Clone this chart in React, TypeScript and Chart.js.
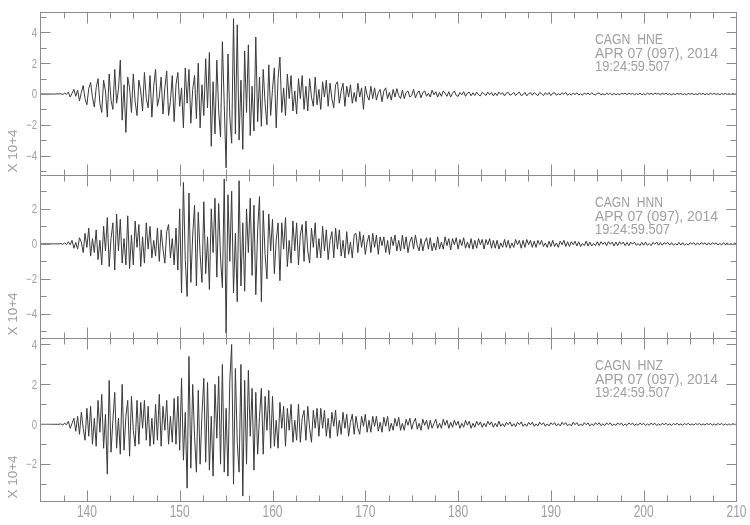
import { useEffect, useRef } from "react";
import { Chart, registerables } from "chart.js";

Chart.register(...registerables);

// ---- data (amplitudes in units of 10^4 counts, one sample every 0.2 s from 135 s) ----
const SAMPLE_START = 135;
const SAMPLE_STEP = 0.2;

const HNE = [
  0, 0, 0, 0, 0,
  0, 0, 0, 0, 0.01,
  0, 0.02, -0.03, 0.05, -0.02,
  0.12, -0.2, 0.05, 0.3, -0.15,
  0.25, -0.45, 0.1, 0.55, -0.3,
  -0.7, 0.35, 0.75, -0.2, -0.85,
  0.4, 1.0, -0.6, -1.2, 0.9,
  0.2, -1.5, 1.3, -0.4, -1.0,
  1.6, -0.6, 0.3, 2.2, -1.7,
  0.6, -2.5, 1.1, 0.4, -1.2,
  1.3, -0.5, -1.4, 0.9, 0.2,
  -1.1, 1.4, -0.3, -0.9, 1.2,
  -1.5, 0.5, 1.6, -0.8, -0.2,
  1.1, -1.3, 0.4, 1.5, -1.4,
  -0.5, 1.2, -1.8, 0.6, 1.4,
  -0.8, 0.4, -2.2, 1.7, -0.6,
  1.6, -1.9, 0.3, 1.2, -1.6,
  2.0, -2.2, 0.6, -1.4, 2.3,
  -0.9, 2.7, -3.4, 0.8, -2.6,
  2.2, -1.1, -2.8, 3.4, -0.7,
  -4.8, 2.6, -1.5, -3.2, 4.9,
  -2.6, 4.5, -3.0, 0.9, -3.6,
  2.8, -1.2, 3.2, -2.7, 0.5,
  -2.4, 3.7, -1.8, 1.1, -2.1,
  1.6, -0.6, -2.0, 1.9, -1.4,
  0.3, 1.7, -2.2, 1.0, 2.4,
  -1.2, 0.4, -1.4, 1.3, -0.3,
  1.2, -1.1, 0.2, -1.3, 1.0,
  -0.3, 1.2, -1.0, 0.5, -1.1,
  1.0, -0.2, -0.8, 1.1, -0.7,
  0.3, -1.0, 0.8, -0.2, 0.9,
  -0.8, 0.7, -0.3, -0.9, 0.6,
  0.8, -0.6, 0.2, 0.7, -0.8,
  0.5, -0.2, 0.6, -0.6, 0.1,
  -0.5, 0.7, -0.2, 0.4, -1.0,
  0.5, -0.1, -0.4, 0.5, -0.3,
  0.4, -0.4, 0.1, 0.3, -0.5,
  0.2, 0.4, -0.3, 0.1, -0.4,
  0.3, -0.2, 0.35, -0.1, -0.3,
  0.25, -0.3, 0.1, 0.2, -0.2,
  -0.1, 0.3, -0.25, 0.05, 0.2,
  -0.25, 0.1, 0.2, -0.15, 0.05,
  -0.2, 0.25, -0.05, 0.15, -0.2,
  0.1, -0.15, 0.2, 0.05, -0.15,
  0.15, -0.2, 0.05, 0.2, -0.1,
  -0.15, 0.1, -0.05, 0.15, -0.15,
  0.05, 0.12, -0.12, 0.08, -0.1,
  0.12, -0.05, -0.12, 0.1, 0.02,
  -0.1, 0.12, -0.04, 0.1, -0.12,
  0.06, -0.1, 0.12, -0.03, 0.08,
  -0.12, 0.06, 0.1, -0.08, -0.02,
  0.1, -0.1, 0.04, 0.12, -0.1,
  -0.04, 0.1, -0.12, 0.03, 0.08,
  -0.08, 0.1, -0.02, -0.1, 0.1,
  0.02, -0.1, 0.08, -0.04, 0.1,
  -0.1, 0.05, 0.08, -0.08, 0.02,
  -0.06, 0.08, -0.02, 0.1, -0.08,
  0.03, -0.08, 0.06, -0.04, 0.08,
  -0.06, 0.02, -0.08, 0.06, -0.02,
  0.06, -0.05, 0.08, -0.02, -0.06,
  0.04, 0.07, -0.06, 0.02, -0.07,
  0.06, -0.03, 0.05, -0.06, 0.04,
  -0.05, 0.02, -0.06, 0.06, -0.01,
  0.05, -0.05, 0.06, -0.02, 0.04,
  -0.05, 0.03, -0.04, 0.06, -0.05,
  0.02, -0.05, 0.05, -0.02, 0.05,
  -0.04, 0.05, -0.01, 0.04, -0.05,
  0.04, -0.02, 0.05, -0.04, 0.02,
  -0.05, 0.02, -0.04, 0.05, -0.02,
  0.03, -0.04, 0.02, -0.05, 0.04,
  -0.02, 0.04, -0.04, 0.01, -0.04,
  0.04, -0.02, 0.04, -0.04, 0.02,
  -0.03, 0.04, -0.02, 0.04, -0.03,
  0.02, -0.04, 0.03, -0.02, 0.04,
  -0.03, 0.02, -0.04, 0.03, -0.02,
  0.02,
];

const HNN = [
  0, 0, 0, 0, 0,
  0, 0, 0, 0, 0,
  0, 0.02, -0.03, 0.06, -0.04,
  0.12, -0.05, 0.2, -0.25, 0.08,
  -0.3, 0.35, 0.1, -0.5, 0.6,
  -0.2, 0.9, -0.7, 0.3, -0.5,
  0.8, -0.9, 0.2, -1.2, 1.0,
  -0.4, 1.5, -1.3, 0.3, 1.2,
  -1.5, 1.7, -0.4, 1.4, -1.1,
  0.3, -1.2, 1.6, -1.4, 0.5,
  -1.2, 1.3, -0.2, 1.1, -1.3,
  0.4, -1.1, 1.2, -0.3, 1.0,
  -0.8, 0.2, -0.7, 0.9, -1.0,
  0.8, -0.3, -1.1, 0.7, 1.1,
  -0.8, 0.3, -1.2, 0.9, -1.5,
  2.0, -2.8, 3.5, -0.9, -3.0,
  2.9, -2.2, 0.5, 2.2, -2.4,
  1.8, -0.6, -2.2, 2.4, -1.7,
  0.4, -2.6, 2.0, -0.5, 2.6,
  -1.9, 2.3, -0.8, -2.5, 3.7,
  -5.1, 2.8, -1.0, 3.0, -2.8,
  0.6, -3.3, 3.6, -2.4, 1.2,
  -2.7, 2.0, -0.5, 2.6, -1.8,
  2.2, -2.9, 0.8, 2.7, -3.3,
  1.9, -0.6, -2.0, 1.7, -0.4,
  1.4, -1.7, 0.2, 1.2, -2.1,
  1.2, -0.3, 1.5, -1.3, 0.2,
  -1.1, 1.3, -0.4, 1.2, -1.2,
  0.5, 1.1, -1.0, 1.3, -0.4,
  -1.1, 0.9, -0.2, 1.2, -0.8,
  0.3, -0.8, 1.0, -0.4, 0.8,
  -0.9, 0.2, 0.7, -0.8, 0.9,
  -0.3, 0.8, -0.7, 0.2, -0.8,
  0.7, -0.6, 0.1, -0.8, 0.5,
  0.6, -0.5, 0.7, -0.2, 0.5,
  -0.6, 0.1, 0.5, -0.5, 0.6,
  -0.2, 0.5, -0.6, 0.4, -0.1,
  0.4, -0.5, 0.2, -0.6, 0.4,
  -0.1, 0.5, -0.4, 0.2, -0.4,
  0.5, -0.3, 0.4, -0.5, 0.1,
  0.4, -0.3, 0.5, -0.1, -0.4,
  0.3, -0.4, 0.1, 0.35, -0.3,
  0.35, -0.4, 0.05, -0.35, 0.4,
  -0.3, 0.1, -0.3, 0.4, -0.1,
  0.3, -0.35, 0.3, -0.05, 0.35,
  -0.3, 0.25, -0.1, 0.35, -0.25,
  0.1, -0.25, 0.3, -0.3, 0.2,
  -0.25, 0.3, -0.05, 0.25, -0.3,
  0.25, -0.05, 0.3, -0.25, 0.2,
  -0.25, 0.2, -0.3, 0.05, -0.2,
  0.25, -0.2, 0.2, -0.25, 0.05,
  -0.2, 0.25, -0.05, 0.2, -0.25,
  0.2, -0.2, 0.25, -0.05, 0.2,
  -0.2, 0.15, -0.2, 0.2, -0.05,
  0.2, -0.15, 0.05, -0.2, 0.15,
  -0.15, 0.2, -0.15, 0.05, -0.2,
  0.15, -0.05, 0.2, -0.15, 0.12,
  -0.15, 0.12, -0.05, 0.15, -0.12,
  0.12, -0.15, 0.02, -0.1, 0.15,
  -0.12, 0.1, -0.12, 0.02, -0.1,
  0.12, -0.1, 0.12, -0.03, 0.1,
  -0.1, 0.12, -0.02, 0.1, -0.12,
  0.1, -0.1, 0.12, -0.02, 0.1,
  -0.1, 0.08, -0.1, 0.1, -0.02,
  0.1, -0.08, 0.02, -0.1, 0.08,
  -0.08, 0.1, -0.08, 0.02, -0.1,
  0.08, -0.02, 0.1, -0.08, 0.07,
  -0.08, 0.07, -0.02, 0.08, -0.07,
  0.07, -0.08, 0.02, -0.07, 0.08,
  -0.07, 0.07, -0.08, 0.02, -0.07,
  0.07, -0.02, 0.07, -0.07, 0.06,
  -0.06, 0.07, -0.02, 0.06, -0.07,
  0.06, -0.06, 0.07, -0.02, 0.06,
  -0.06, 0.02, -0.06, 0.07, -0.06,
  0.06, -0.06, 0.02, -0.06, 0.06,
  -0.05,
];

const HNZ = [
  0, 0, 0, 0, 0,
  0, 0, 0, 0, 0,
  0, 0.02, -0.04, 0.06, -0.03,
  0.15, -0.2, 0.05, 0.3, -0.35,
  0.4, -0.5, 0.6, -0.2, -0.8,
  0.8, -0.6, 0.9, -1.0, 0.3,
  -1.1, 1.2, -0.4, 1.5, -1.2,
  0.5, -2.5, 2.2, -1.4, 0.2,
  1.6, -1.2, 0.3, -1.5, 2.0,
  -1.3, 0.4, 1.2, -1.6, 1.4,
  -0.3, -1.1, 1.2, -1.0, 1.1,
  -0.2, 1.2, -0.8, 0.9, -1.1,
  0.3, -1.0, 1.0, -0.8, 1.5,
  -1.1, 0.9, -0.3, 1.2, -1.0,
  0.4, -0.9, 1.3, -1.0, 1.4,
  -1.3, 2.3, -1.8, 0.6, -3.2,
  3.4, -2.2, 2.0, -0.6, -2.4,
  1.7, -2.0, 0.5, 2.3, -1.9,
  2.1, -2.3, 0.4, -2.6, 2.0,
  -0.7, 2.4, -2.0, 3.0, -2.4,
  0.8, -2.6, 2.2, 4.0, -3.0,
  2.8, -0.9, -2.4, 3.0, -3.6,
  2.2, -2.0, 2.7, -0.6, 1.8,
  -2.3, 1.6, -1.5, 0.4, 1.8,
  -1.5, 1.4, -0.3, 1.7, -1.2,
  1.4, -1.1, 0.2, -1.2, 1.1,
  -0.2, 0.9, -1.1, 0.8, -0.3,
  1.0, -0.9, 0.2, -0.8, 1.0,
  -0.9, 0.3, 0.7, -0.8, 0.9,
  -0.2, -0.9, 0.7, -0.2, 0.8,
  -0.6, 0.8, -0.2, 0.7, -0.6,
  0.3, -0.7, 0.6, -0.1, 0.7,
  -0.6, 0.2, -0.5, 0.6, -0.2,
  0.5, -0.6, 0.1, 0.5, -0.5,
  0.4, -0.2, -0.5, 0.4, -0.1,
  0.5, -0.4, 0.2, -0.4, 0.4,
  -0.1, 0.4, -0.35, 0.1, -0.4,
  0.35, -0.1, 0.4, -0.35, 0.05,
  -0.3, 0.3, -0.1, 0.35, -0.3,
  0.05, -0.3, 0.25, -0.05, 0.3,
  -0.25, 0.1, 0.3, -0.25, 0.05,
  -0.3, 0.25, -0.05, 0.2, -0.25,
  0.2, -0.2, 0.05, 0.25, -0.2,
  0.05, -0.2, 0.25, -0.05, 0.2,
  -0.2, 0.1, -0.15, 0.2, -0.05,
  0.15, -0.2, 0.05, -0.15, 0.2,
  -0.05, 0.15, -0.2, 0.05, -0.15,
  0.15, -0.05, 0.12, -0.15, 0.05,
  -0.12, 0.15, -0.03, 0.12, -0.15,
  0.05, -0.12, 0.15, -0.1, 0.03,
  -0.12, 0.1, -0.02, 0.12, -0.1,
  0.03, -0.12, 0.1, -0.02, 0.12,
  -0.1, 0.02, -0.1, 0.1, -0.03,
  0.1, -0.1, 0.02, -0.08, 0.1,
  -0.03, 0.08, -0.1, 0.02, -0.08,
  0.08, -0.02, 0.08, -0.08, 0.03,
  -0.08, 0.1, -0.02, 0.08, -0.08,
  0.02, -0.08, 0.1, -0.02, 0.08,
  -0.08, 0.02, -0.08, 0.08, -0.02,
  0.07, -0.08, 0.02, -0.07, 0.08,
  -0.02, 0.08, -0.07, 0.02, -0.06,
  0.07, -0.02, 0.07, -0.07, 0.02,
  -0.06, 0.07, -0.02, 0.06, -0.07,
  0.02, -0.06, 0.07, -0.02, 0.06,
  -0.06, 0.02, -0.05, 0.06, -0.02,
  0.05, -0.06, 0.02, -0.05, 0.06,
  -0.02, 0.05, -0.06, 0.02, -0.05,
  0.05, -0.02, 0.05, -0.04, 0.02,
  -0.05, 0.04, -0.02, 0.05, -0.04,
  0.02, -0.05, 0.04, -0.02, 0.05,
  -0.04, 0.02, -0.04, 0.04, -0.02,
  0.04, -0.04, 0.02, -0.04, 0.04,
  -0.02, 0.04, -0.04, 0.02, -0.04,
  0.04, -0.02, 0.04, -0.04, 0.02,
  -0.04, 0.02, -0.04, 0.04, -0.02,
  0.03,
];

const TRACES = [HNE, HNN, HNZ];
const STATION = "CAGN";
const CHANNELS = ["HNE", "HNN", "HNZ"];
const DATE_LABEL = "APR 07 (097), 2014";
const TIME_LABEL = "19:24:59.507";
const AMP_LABEL = "X 10+4";

const X_MIN = 135;
const X_MAX = 210;
const X_MINOR_STEP = 2.5;
const X_TICK_LABELS = [140, 150, 160, 170, 180, 190, 200, 210];
const Y_RANGES = [
  [-5.3, 5.3],
  [-5.4, 3.9],
  [-3.87, 4.3],
];
const Y_TICK_LABELS = [
  [4, 2, 0, -2, -4],
  [2, 0, -2, -4],
  [4, 2, 0, -2],
];

// ---- layout / style ----
const W = 750;
const H = 525;
const AREA_LEFT = 40.5;
const AREA_RIGHT = 736.5;
const PANELS = [
  { top: 12.5, bottom: 175.5 },
  { top: 175.5, bottom: 338.5 },
  { top: 338.5, bottom: 501.5 },
];
const AXIS_COLOR = "#8c8c8c";
const TEXT_COLOR = "#a0a0a0";
const TRACE_COLOR = "#3a3a3a";
const FONT = '"Liberation Sans", "DejaVu Sans", sans-serif';

function scaledText(
  ctx: CanvasRenderingContext2D,
  text: string,
  x: number,
  y: number,
  sx: number,
  align: CanvasTextAlign
) {
  ctx.save();
  ctx.translate(x, y);
  ctx.scale(sx, 1);
  ctx.textAlign = align;
  ctx.textBaseline = "alphabetic";
  ctx.fillText(text, 0, 0);
  ctx.restore();
}

function fitText(
  ctx: CanvasRenderingContext2D,
  text: string,
  x: number,
  y: number,
  width: number,
  align: CanvasTextAlign
) {
  const m = ctx.measureText(text).width || 1;
  scaledText(ctx, text, x, y, width / m, align);
}

const seisPlugin = {
  id: "seis",
  afterDatasetsDraw(chart: any, _args: any, opts: any) {
    const idx: number = opts.index;
    const { ctx, chartArea: a, scales } = chart;
    const xs = scales.x;
    const ys = scales.y;
    const [ymin, ymax] = Y_RANGES[idx];
    ctx.save();
    ctx.strokeStyle = AXIS_COLOR;
    ctx.lineWidth = 1;
    ctx.strokeRect(a.left, a.top, a.right - a.left, a.bottom - a.top);

    ctx.beginPath();
    for (let v = X_MIN + X_MINOR_STEP; v < X_MAX - 0.01; v += X_MINOR_STEP) {
      const px = Math.round(xs.getPixelForValue(v)) + 0.5;
      const len = Math.abs(v % 10) < 0.01 ? 11 : 6;
      ctx.moveTo(px, a.top);
      ctx.lineTo(px, a.top + len);
      ctx.moveTo(px, a.bottom);
      ctx.lineTo(px, a.bottom - len);
    }
    for (let v = Math.ceil(ymin); v <= Math.floor(ymax); v++) {
      const py = Math.round(ys.getPixelForValue(v)) + 0.5;
      if (py <= a.top + 1 || py >= a.bottom - 1) continue;
      const len = v % 2 === 0 ? 10 : 6;
      ctx.moveTo(a.left, py);
      ctx.lineTo(a.left + len, py);
      ctx.moveTo(a.right, py);
      ctx.lineTo(a.right - len, py);
    }
    ctx.stroke();

    ctx.fillStyle = TEXT_COLOR;
    ctx.font = `12px ${FONT}`;
    for (const v of Y_TICK_LABELS[idx]) {
      const py = ys.getPixelForValue(v);
      const label = v < 0 ? "\u2212" + Math.abs(v) : String(v);
      scaledText(ctx, label, a.left - 3.5, py + 4.3, 0.8, "right");
    }

    if (idx === TRACES.length - 1) {
      ctx.font = `16px ${FONT}`;
      for (const v of X_TICK_LABELS) {
        const px = xs.getPixelForValue(v);
        scaledText(ctx, String(v), px, a.bottom + 15.5, 0.75, "center");
      }
    }

    ctx.font = `12px ${FONT}`;
    ctx.save();
    ctx.translate(16.5, a.bottom - 3);
    ctx.rotate(-Math.PI / 2);
    fitText(ctx, AMP_LABEL, 0, 0, 43, "left");
    ctx.restore();

    ctx.font = `15px ${FONT}`;
    const tx = 595;
    fitText(ctx, `${STATION}  ${CHANNELS[idx]}`, tx, a.top + 31, 68, "left");
    fitText(ctx, DATE_LABEL, tx, a.top + 45.5, 123, "left");
    fitText(ctx, TIME_LABEL, tx, a.top + 58.5, 75, "left");
    ctx.restore();
  },
};

export default function App() {
  const r0 = useRef<HTMLCanvasElement>(null);
  const r1 = useRef<HTMLCanvasElement>(null);
  const r2 = useRef<HTMLCanvasElement>(null);

  useEffect(() => {
    const refs = [r0, r1, r2];
    const charts = TRACES.map((vals, i) => {
      const pts = vals.map((y, k) => ({ x: SAMPLE_START + k * SAMPLE_STEP, y }));
      const panel = PANELS[i];
      return new Chart(refs[i].current as HTMLCanvasElement, {
        type: "line",
        data: {
          datasets: [
            {
              data: pts,
              borderColor: TRACE_COLOR,
              borderWidth: 1,
              pointRadius: 0,
              tension: 0,
              fill: false,
            },
          ],
        },
        options: {
          responsive: false,
          animation: false,
          events: [],
          layout: {
            padding: {
              left: AREA_LEFT,
              right: W - AREA_RIGHT,
              top: panel.top,
              bottom: H - panel.bottom,
            },
          },
          plugins: {
            legend: { display: false },
            tooltip: { enabled: false },
            seis: { index: i },
          } as any,
          scales: {
            x: { type: "linear", min: X_MIN, max: X_MAX, display: false },
            y: { type: "linear", min: Y_RANGES[i][0], max: Y_RANGES[i][1], display: false },
          },
        },
        plugins: [seisPlugin],
      });
    });
    return () => charts.forEach((c) => c.destroy());
  }, []);

  const cs: React.CSSProperties = { position: "absolute", left: 0, top: 0 };
  return (
    <div
      style={{
        position: "fixed",
        left: 0,
        top: 0,
        width: W,
        height: H,
        background: "#ffffff",
      }}
    >
      <canvas ref={r0} width={W} height={H} style={cs} />
      <canvas ref={r1} width={W} height={H} style={cs} />
      <canvas ref={r2} width={W} height={H} style={cs} />
    </div>
  );
}
